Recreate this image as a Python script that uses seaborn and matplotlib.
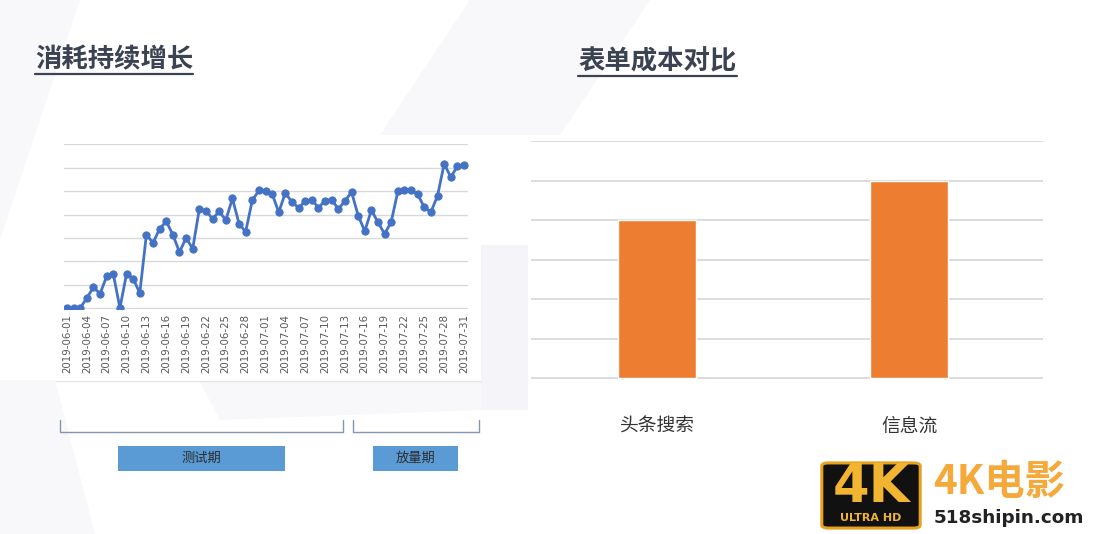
import numpy as np
import pandas as pd
import matplotlib
matplotlib.use("Agg")
import matplotlib.pyplot as plt
from matplotlib.patches import Rectangle, Polygon, FancyBboxPatch
from matplotlib.lines import Line2D
import seaborn as sns

# ---------------- data ----------------
dates = pd.date_range("2019-06-01", "2019-07-31", freq="D").strftime("%Y-%m-%d").tolist()
spend = [0, 0, 0, 430, 890, 610, 1360, 1460, 0, 1460,
         1260, 640, 3140, 2790, 3390, 3710, 3140, 2390, 3000, 2540,
         4240, 4170, 3810, 4140, 3760, 4690, 3610, 3260, 4610, 5030,
         5000, 4890, 4100, 4930, 4530, 4290, 4570, 4640, 4290, 4600,
         4640, 4240, 4570, 4970, 3960, 3290, 4190, 3670, 3170, 3690,
         5000, 5040, 5040, 4860, 4310, 4110, 4810, 6170, 5600, 6070,
         6100]
channels = ["头条搜索", "信息流"]
cost = [40, 50]
phase_labels = ["测试期", "放量期"]
title_left = "消耗持续增长"
title_right = "表单成本对比"

# ---------------- figure ----------------
W, H = 1098, 534
sns.set_theme(style="white")
plt.rcParams["font.family"] = ["Noto Sans CJK SC", "DejaVu Sans"]
fig = plt.figure(figsize=(W / 100, H / 100), dpi=100)
fig.patch.set_facecolor("white")


def fx(x):
    return x / W


def fy(y):
    return 1 - y / H


def poly(pts, color, z=-3):
    fig.add_artist(Polygon([(fx(a), fy(b)) for a, b in pts], closed=True,
                           transform=fig.transFigure, facecolor=color,
                           edgecolor="none", zorder=z))


# faint background shapes
poly([(0, 0), (80, 0), (0, 240)], "#f8f8fa")
poly([(470, 0), (650, 0), (560, 135), (380, 135)], "#f8f8fa")
poly([(0, 380), (55, 380), (95, 534), (0, 534)], "#f8f8fa")
poly([(481, 245), (528, 245), (528, 410), (481, 410)], "#f5f4f8")
poly([(200, 382), (481, 382), (481, 410), (220, 420)], "#f8f8fa")

# white panel behind line chart
fig.add_artist(Rectangle((fx(56), fy(382)), fx(425), 247 / H, transform=fig.transFigure,
                         facecolor="white", edgecolor="none", zorder=-2))
fig.add_artist(Line2D([fx(56), fx(481)], [fy(381), fy(381)], transform=fig.transFigure,
                      color="#e6e6e9", lw=1, zorder=-1))

# ---------------- line chart ----------------
axL = fig.add_axes([fx(64), fy(308.5), fx(404), (308.5 - 144) / H])
axL.set_zorder(2)
df = pd.DataFrame({"idx": np.arange(len(dates)), "spend": spend})
sns.lineplot(data=df, x="idx", y="spend", ax=axL, color="#4472c4", lw=2.0,
             marker="o", markersize=5.2, markeredgecolor="#4472c4", zorder=3)
axL.set_facecolor("none")
axL.set_xlim(-0.45, 60.6)
axL.set_ylim(-20, 7020)
axL.set_yticks(np.arange(0, 7001, 1000))
axL.yaxis.grid(True, color="#d9d9d9", lw=1)
axL.set_yticklabels([])
axL.tick_params(axis="y", length=0)
ticks = list(range(0, len(dates), 3))
axL.set_xticks(ticks)
axL.set_xticklabels([dates[i] for i in ticks], rotation=90, fontsize=7.4,
                    color="#595959", family="DejaVu Sans")
axL.tick_params(axis="x", length=0, pad=4)
axL.set_xlabel("")
axL.set_ylabel("")
for s in axL.spines.values():
    s.set_visible(False)

# brackets
bc = "#8497b0"
for x0, x1 in [(60, 343), (353, 479)]:
    fig.add_artist(Line2D([fx(x0), fx(x0), fx(x1), fx(x1)],
                          [fy(420), fy(432), fy(432), fy(420)],
                          transform=fig.transFigure, color=bc, lw=1.0))

# phase boxes
for (x0, x1), lab in zip([(118, 285), (373, 458)], phase_labels):
    fig.add_artist(Rectangle((fx(x0), fy(471)), fx(x1 - x0), 25 / H,
                             transform=fig.transFigure, facecolor="#5b9bd5",
                             edgecolor="none"))
    fig.text(fx((x0 + x1) / 2), fy(458.5), lab, ha="center", va="center",
             fontsize=9.5, color="#2b2b2b")

# ---------------- bar chart ----------------
axB = fig.add_axes([fx(531), fy(378.5), fx(512), (378.5 - 141) / H])
axB.set_zorder(2)
sns.barplot(x=channels, y=cost, ax=axB, color="#ed7d31", saturation=1,
            width=0.31, zorder=3)
axB.set_facecolor("none")
axB.set_xlim(-0.5, 1.53)
axB.set_ylim(-0.05, 60.1)
axB.set_yticks(np.arange(0, 61, 10))
axB.yaxis.grid(True, color="#d9d9d9", lw=1.3)
axB.set_axisbelow(True)
axB.set_yticklabels([])
axB.tick_params(axis="y", length=0)
axB.tick_params(axis="x", length=0, pad=27, labelsize=13.5, labelcolor="#333333")
axB.set_xlabel("")
axB.set_ylabel("")
for s in axB.spines.values():
    s.set_visible(False)

# ---------------- titles ----------------
tc = "#3b4252"
for x0, x1, yc, yu, t in [(35, 193, 60, 73.5, title_left), (578, 737, 62, 76, title_right)]:
    fig.text(fx(x0), fy(yc), t, ha="left", va="center", fontsize=19,
             fontweight="bold", color=tc)
    fig.add_artist(Line2D([fx(x0), fx(x1)], [fy(yu), fy(yu)],
                          transform=fig.transFigure, color=tc, lw=1.6))

# ---------------- watermark ----------------
fig.add_artist(FancyBboxPatch((fx(824), fy(527)), fx(94), 63 / H,
                              boxstyle="round,pad=0.002,rounding_size=0.006",
                              transform=fig.transFigure, facecolor="#111111",
                              edgecolor="#e6a11f", lw=2.2))
fig.text(fx(871), fy(487), "4K", ha="center", va="center", fontsize=38,
         fontweight="bold", color="#f2b531", family="DejaVu Sans")
fig.text(fx(871), fy(518), "ULTRA HD", ha="center", va="center", fontsize=8,
         fontweight="bold", color="#f2b531", family="DejaVu Sans")
fig.text(fx(933), fy(482), "4K电影", ha="left", va="center", fontsize=29,
         fontweight="bold", color="#f4a93a")
fig.text(fx(934), fy(518), "518shipin.com", ha="left", va="center", fontsize=13.2,
         fontweight="bold", color="#222222", family="DejaVu Sans")

fig.savefig("out.png", dpi=100, facecolor="white")
